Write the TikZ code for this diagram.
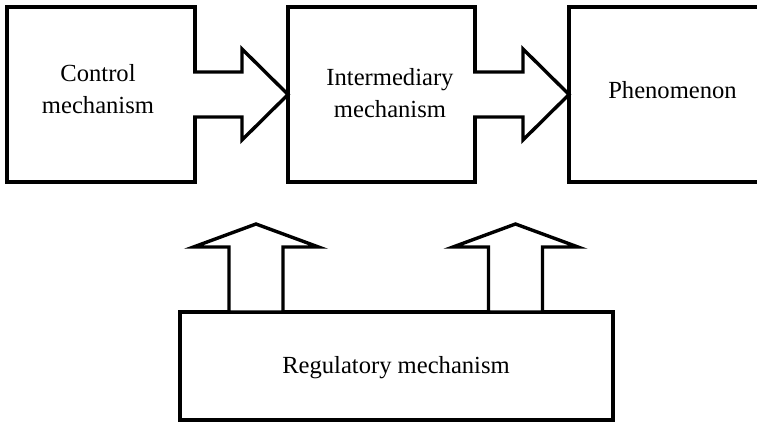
\documentclass[tikz,border=0pt]{standalone}
\usepackage{fontspec}
\setmainfont{Liberation Serif}
\usetikzlibrary{calc}
\tikzset{
  box/.style={draw=black, line width=3.4pt, rectangle, outer sep=0pt, inner sep=0pt, fill=white},
  lbl/.style={font=\fontsize{24.6}{31.5}\selectfont, align=center, inner sep=0pt, text=black},
  blockarrow/.style={draw=black, fill=white, line width=3.4pt, line join=miter, miter limit=10},
}
\begin{document}
\begin{tikzpicture}[x=1pt,y=-1pt]
\useasboundingbox (0,0) rectangle (757,422);
\clip (0,0) rectangle (757,422);
\fill[white] (0,0) rectangle (757,422);
% boxes
\node[box, minimum width=188pt, minimum height=175pt] (ctrl) at (101,94.5) {};
\node[box, minimum width=187pt, minimum height=175pt] (inter) at (381.5,94.5) {};
\node[box, minimum width=221pt, minimum height=175pt] (phen) at (679.5,94.5) {};
\node[box, minimum width=433pt, minimum height=108pt] (reg) at (396.5,366) {};
% labels
\node[lbl] (tctrl) at (98,89) {Control\\mechanism};
\node[lbl] (tinter) at (390,93) {Intermediary\\mechanism};
\node[lbl] (tphen) at (672.5,89.6) {Phenomenon};
\node[lbl] (treg) at (396,368) {Regulatory mechanism};
% horizontal block arrows
\filldraw[blockarrow] ($(ctrl.east)+(-1.8,-22.5)$) -- ($(inter.west)+(-46,-22.5)$) -- ($(inter.west)+(-46,-45.5)$) -- (inter.west) -- ($(inter.west)+(-46,45.5)$) -- ($(inter.west)+(-46,22.5)$) -- ($(ctrl.east)+(-1.8,22.5)$);
\filldraw[blockarrow] ($(inter.east)+(-1.8,-22.5)$) -- ($(phen.west)+(-46,-22.5)$) -- ($(phen.west)+(-46,-45.5)$) -- (phen.west) -- ($(phen.west)+(-46,45.5)$) -- ($(phen.west)+(-46,22.5)$) -- ($(inter.east)+(-1.8,22.5)$);
% vertical block arrows
\coordinate (b1) at ($(reg.north west)+(76,0)$);
\coordinate (u1) at (256,224);
\coordinate (b2) at ($(reg.north west)+(335.5,0)$);
\coordinate (u2) at (515.5,224);
\draw[blockarrow] ($(b1)+(-27,0)$) -- ($(b1|-u1)+(-27,23)$) -- ($(b1|-u1)+(-62.5,23)$) -- (u1) -- ($(b1|-u1)+(62.5,23)$) -- ($(b1|-u1)+(27,23)$) -- ($(b1)+(27,0)$) -- cycle;
\draw[blockarrow] ($(b2)+(-27,0)$) -- ($(b2|-u2)+(-27,23)$) -- ($(b2|-u2)+(-62.5,23)$) -- (u2) -- ($(b2|-u2)+(62.5,23)$) -- ($(b2|-u2)+(27,23)$) -- ($(b2)+(27,0)$) -- cycle;
\end{tikzpicture}
\end{document}
